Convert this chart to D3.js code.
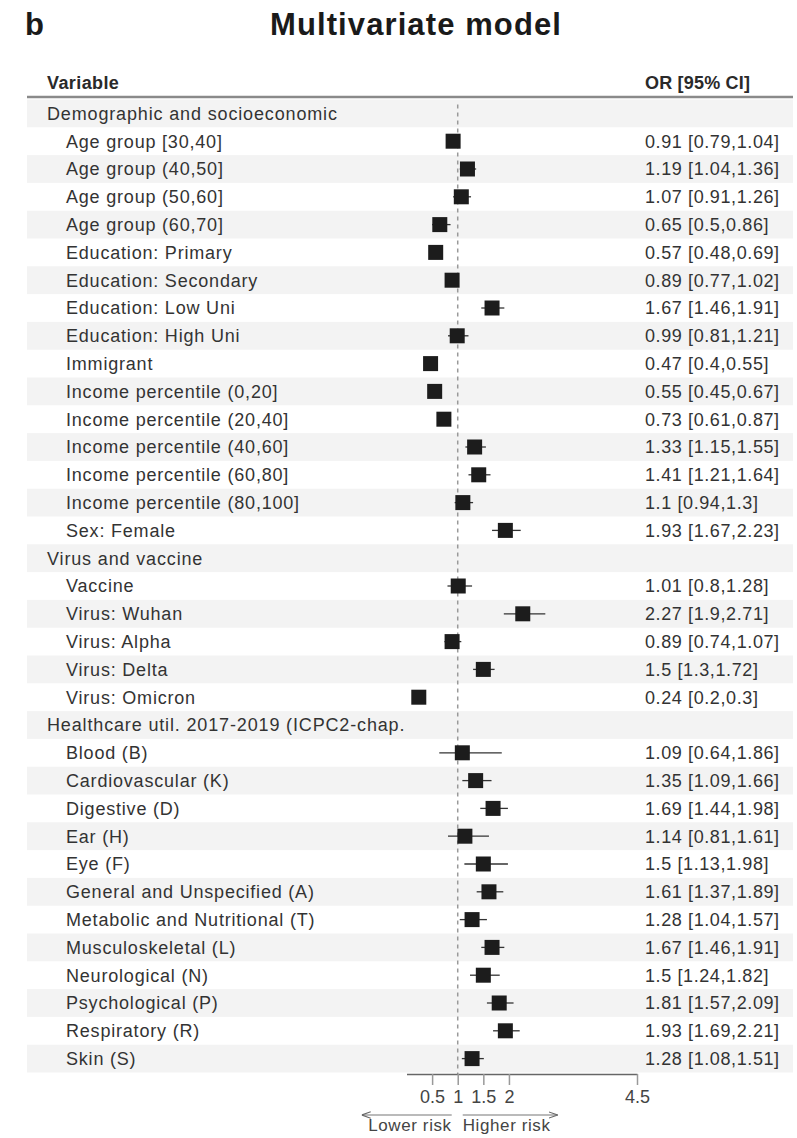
<!DOCTYPE html>
<html>
<head>
<meta charset="utf-8">
<script src="https://cdn.jsdelivr.net/npm/d3@7"></script>
<style>
  body { margin: 0; background: #fff; }
  svg text { font-family: "Liberation Sans", Arial, Helvetica, sans-serif; }
</style>
</head>
<body>
<svg id="chart" width="797" height="1138"></svg>
<script>
// ---- Data: odds ratios with 95% confidence intervals ----
const sectionTitles = [
  "Demographic and socioeconomic",
  "Virus and vaccine",
  "Healthcare util. 2017-2019 (ICPC2-chap."
];

const demoLabels = [
  "Age group [30,40]", "Age group (40,50]", "Age group (50,60]", "Age group (60,70]",
  "Education: Primary", "Education: Secondary", "Education: Low Uni", "Education: High Uni",
  "Immigrant", "Income percentile (0,20]", "Income percentile (20,40]",
  "Income percentile (40,60]", "Income percentile (60,80]", "Income percentile (80,100]",
  "Sex: Female"
];
const demoOR = [0.91, 1.19, 1.07, 0.65, 0.57, 0.89, 1.67, 0.99, 0.47, 0.55, 0.73, 1.33, 1.41, 1.1, 1.93];
const demoLo = [0.79, 1.04, 0.91, 0.5, 0.48, 0.77, 1.46, 0.81, 0.4, 0.45, 0.61, 1.15, 1.21, 0.94, 1.67];
const demoHi = [1.04, 1.36, 1.26, 0.86, 0.69, 1.02, 1.91, 1.21, 0.55, 0.67, 0.87, 1.55, 1.64, 1.3, 2.23];

const virusLabels = ["Vaccine", "Virus: Wuhan", "Virus: Alpha", "Virus: Delta", "Virus: Omicron"];
const virusOR = [1.01, 2.27, 0.89, 1.5, 0.24];
const virusLo = [0.8, 1.9, 0.74, 1.3, 0.2];
const virusHi = [1.28, 2.71, 1.07, 1.72, 0.3];

const careLabels = [
  "Blood (B)", "Cardiovascular (K)", "Digestive (D)", "Ear (H)", "Eye (F)",
  "General and Unspecified (A)", "Metabolic and Nutritional (T)", "Musculoskeletal (L)",
  "Neurological (N)", "Psychological (P)", "Respiratory (R)", "Skin (S)"
];
const careOR = [1.09, 1.35, 1.69, 1.14, 1.5, 1.61, 1.28, 1.67, 1.5, 1.81, 1.93, 1.28];
const careLo = [0.64, 1.09, 1.44, 0.81, 1.13, 1.37, 1.04, 1.46, 1.24, 1.57, 1.69, 1.08];
const careHi = [1.86, 1.66, 1.98, 1.61, 1.98, 1.89, 1.57, 1.91, 1.82, 2.09, 2.21, 1.51];

const axisTicks = [0.5, 1, 1.5, 2, 4.5];

// ---- Table of rows (section headers followed by their variables) ----
const groups = [
  [demoLabels, demoOR, demoLo, demoHi],
  [virusLabels, virusOR, virusLo, virusHi],
  [careLabels, careOR, careLo, careHi]
];
const rows = [];
groups.forEach((g, s) => {
  rows.push({ section: true, label: sectionTitles[s] });
  g[0].forEach((lab, i) => rows.push({ section: false, label: lab, or: g[1][i], lo: g[2][i], hi: g[3][i] }));
});

// ---- Layout ----
const svg = d3.select("#chart");
const tableLeft = 27, tableRight = 793;
const rowTop = 99.5, rowH = 27.8;
const sectionX = 47, itemX = 66, valueX = 645;
const textColor = "#333";

const x = d3.scaleLinear().domain([0, 4.5]).range([406.5, 637]);
const y = d3.scaleBand().domain(d3.range(rows.length))
  .range([rowTop, rowTop + rows.length * rowH]).padding(0);
const cy = i => y(i) + y.bandwidth() / 2;
const axisY = y.range()[1] + 1.5;

// Title
svg.append("text").attr("x", 25).attr("y", 35)
  .attr("font-size", 31).attr("font-weight", "bold").attr("fill", "#1a1a1a")
  .text("b");
svg.append("text").attr("x", 416).attr("y", 35).attr("text-anchor", "middle")
  .attr("font-size", 31).attr("font-weight", "bold").attr("fill", "#1a1a1a")
  .attr("letter-spacing", 1.1).text("Multivariate model");

// Column headers and rule
svg.append("text").attr("x", sectionX).attr("y", 89)
  .attr("font-size", 18).attr("font-weight", "bold").attr("fill", "#2a2a2a")
  .attr("letter-spacing", 0.4).text("Variable");
svg.append("text").attr("x", valueX).attr("y", 89)
  .attr("font-size", 18).attr("font-weight", "bold").attr("fill", "#2a2a2a")
  .attr("letter-spacing", 0.2).text("OR [95% CI]");
svg.append("line").attr("x1", tableLeft).attr("x2", tableRight)
  .attr("y1", 97).attr("y2", 97).attr("stroke", "#8a8a8a").attr("stroke-width", 2.5);

// Alternating row stripes
svg.append("g").selectAll("rect")
  .data(rows.map((r, i) => i).filter(i => i % 2 === 0))
  .join("rect")
  .attr("x", tableLeft).attr("width", tableRight - tableLeft)
  .attr("y", i => y(i)).attr("height", y.bandwidth())
  .attr("fill", "#f3f3f3");

// Labels, clipped to the label column
svg.append("clipPath").attr("id", "labelClip")
  .append("rect").attr("x", 0).attr("y", 0).attr("width", x(0)).attr("height", 1138);
svg.append("g").attr("clip-path", "url(#labelClip)")
  .selectAll("text").data(rows).join("text")
  .attr("x", d => d.section ? sectionX : itemX)
  .attr("y", (d, i) => cy(i) + 6.3)
  .attr("font-size", 18).attr("letter-spacing", d => d.section ? 0.85 : 0.8).attr("fill", textColor)
  .text(d => d.label);

// Reference line at OR = 1
svg.append("line").attr("x1", x(1)).attr("x2", x(1))
  .attr("y1", rowTop + 5).attr("y2", axisY)
  .attr("stroke", "#999").attr("stroke-width", 1.5).attr("stroke-dasharray", "4,4");

// Confidence intervals and point estimates
const est = rows.map((r, i) => Object.assign({ i }, r)).filter(r => !r.section);
const marks = svg.append("g");
marks.selectAll("line").data(est).join("line")
  .attr("x1", d => x(d.lo)).attr("x2", d => x(d.hi))
  .attr("y1", d => cy(d.i)).attr("y2", d => cy(d.i))
  .attr("stroke", "#333").attr("stroke-width", 1.3);
const sq = 15;
marks.selectAll("rect").data(est).join("rect")
  .attr("x", d => x(d.or) - sq / 2).attr("y", d => cy(d.i) - sq / 2)
  .attr("width", sq).attr("height", sq).attr("fill", "#1c1c1c");

// OR [95% CI] column
svg.append("g").selectAll("text").data(est).join("text")
  .attr("x", valueX).attr("y", d => cy(d.i) + 6.3)
  .attr("font-size", 18).attr("letter-spacing", 0.6).attr("fill", textColor)
  .text(d => `${d.or} [${d.lo},${d.hi}]`);

// x axis
const axis = svg.append("g").attr("transform", `translate(0,${axisY})`)
  .call(d3.axisBottom(x).tickValues(axisTicks).tickSize(11).tickSizeOuter(0)
    .tickFormat(d3.format("")));
axis.select(".domain").attr("stroke", "#666").attr("stroke-width", 1.5);
axis.selectAll(".tick line").attr("stroke", "#999").attr("stroke-width", 1.5);
axis.selectAll(".tick text").attr("font-size", 18).attr("fill", "#444")
  .attr("font-family", "'Liberation Sans', Arial, sans-serif").attr("y", 16).attr("dy", "0.71em");

// Direction arrows
const arrowY = axisY + 41;
const defs = svg.append("defs");
defs.append("marker").attr("id", "arr").attr("viewBox", "0 0 10 10")
  .attr("refX", 10).attr("refY", 5).attr("markerWidth", 9).attr("markerHeight", 9)
  .attr("markerUnits", "userSpaceOnUse").attr("orient", "auto")
  .append("path").attr("d", "M0,1.5 L10,5 L0,8.5").attr("fill", "none")
  .attr("stroke", "#666").attr("stroke-width", 1.2);
svg.append("line").attr("x1", x(1) - 6).attr("x2", x(1) - 96)
  .attr("y1", arrowY).attr("y2", arrowY).attr("stroke", "#777").attr("stroke-width", 1.2)
  .attr("marker-end", "url(#arr)");
svg.append("line").attr("x1", x(1) + 5).attr("x2", x(1) + 100)
  .attr("y1", arrowY).attr("y2", arrowY).attr("stroke", "#777").attr("stroke-width", 1.2)
  .attr("marker-end", "url(#arr)");
svg.append("text").attr("x", x(1) - 6).attr("y", arrowY + 16).attr("text-anchor", "end")
  .attr("font-size", 17).attr("letter-spacing", 0.6).attr("fill", "#444").text("Lower risk");
svg.append("text").attr("x", x(1) + 5).attr("y", arrowY + 16)
  .attr("font-size", 17).attr("letter-spacing", 0.6).attr("fill", "#444").text("Higher risk");
</script>
</body>
</html>
